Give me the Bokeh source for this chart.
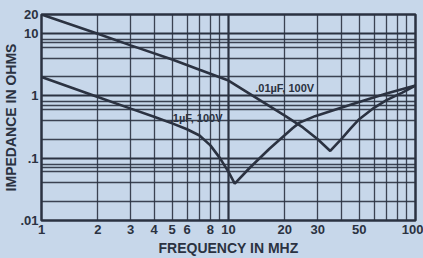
from bokeh.plotting import figure
from bokeh.models import FixedTicker, Grid, Label, GlobalInlineStyleSheet
from bokeh.embed import file_html
from bokeh.resources import INLINE

# ---- data ----
freq_ticks = [1, 2, 3, 4, 5, 6, 8, 10, 20, 30, 50, 100]
imp_ticks = [0.01, 0.1, 1, 10, 20]
imp_tick_labels = [".01", ".1", "1", "10", "20"]

grid_x_minor = [2, 3, 4, 5, 6, 7, 8, 9, 20, 30, 40, 50, 60, 70, 80, 90]
grid_x_major = [10]
grid_y_minor = [0.02, 0.04, 0.06, 0.07, 0.08,
                0.2, 0.4, 0.6, 0.7, 0.8,
                2, 4, 6, 7, 8]
grid_y_major = [0.1, 1, 10]

f_01uF = [1, 2, 3, 5, 7, 10, 15, 20, 25, 30, 35, 40, 45, 50, 60, 70, 85, 100]
z_01uF = [20, 9.8, 6.4, 3.8, 2.6, 1.75, 0.82, 0.48, 0.31, 0.2, 0.13, 0.2, 0.3, 0.42, 0.64, 0.85, 1.12, 1.45]

f_1uF = [1, 2, 3, 4, 5, 6, 7, 8, 9, 10, 10.8, 13, 16.5, 22, 24, 29, 40, 50, 70, 100]
z_1uF = [2.0, 0.95, 0.62, 0.46, 0.36, 0.29, 0.23, 0.16, 0.1, 0.06, 0.039, 0.07, 0.14, 0.3, 0.37, 0.47, 0.64, 0.79, 1.08, 1.45]

label_01uF = ".01\u00b5F, 100V"
label_1uF = ".1\u00b5F, 100V"

BG = "#c7d7ea"
INK = "#2b3241"
FONT = "Liberation Sans"

p = figure(width=423, height=258, x_axis_type="log", y_axis_type="log",
           x_range=(1, 100), y_range=(0.01, 20),
           output_backend="svg", toolbar_location=None,
           min_border_left=41, min_border_right=8, min_border_top=14, min_border_bottom=38)

p.background_fill_color = BG
p.border_fill_color = BG
p.outline_line_color = INK
p.outline_line_width = 2.5
p.stylesheets = [GlobalInlineStyleSheet(
    css="html, body { margin: 0; padding: 0; background: %s; overflow: hidden; }" % BG)]

# grids
p.xgrid.ticker = FixedTicker(ticks=grid_x_minor)
p.ygrid.ticker = FixedTicker(ticks=grid_y_minor)
for g in (p.xgrid[0], p.ygrid[0]):
    g.grid_line_color = INK
    g.grid_line_width = 1.3
    g.grid_line_alpha = 0.9
p.add_layout(Grid(dimension=0, ticker=FixedTicker(ticks=grid_x_major),
                  grid_line_color=INK, grid_line_width=2.2))
p.add_layout(Grid(dimension=1, ticker=FixedTicker(ticks=grid_y_major),
                  grid_line_color=INK, grid_line_width=2.2))

# axes
p.xaxis.ticker = FixedTicker(ticks=freq_ticks)
p.yaxis.ticker = FixedTicker(ticks=imp_ticks)
p.yaxis.major_label_overrides = {t: s for t, s in zip(imp_ticks, imp_tick_labels)}
p.xaxis.major_label_overrides = {t: str(t) for t in freq_ticks}
for ax in (p.xaxis[0], p.yaxis[0]):
    ax.axis_line_color = None
    ax.major_tick_line_color = None
    ax.minor_tick_line_color = None
    ax.major_tick_out = 0
    ax.major_tick_in = 0
    ax.minor_tick_out = 0
    ax.minor_tick_in = 0
    ax.major_label_text_font = FONT
    ax.major_label_text_font_style = "bold"
    ax.major_label_text_color = INK
    ax.axis_label_text_font = FONT
    ax.axis_label_text_font_style = "bold"
    ax.axis_label_text_color = INK
p.xaxis.major_label_text_font_size = "13px"
p.yaxis.major_label_text_font_size = "13px"
p.xaxis.major_label_standoff = 4
p.yaxis.major_label_standoff = 3
p.xaxis.axis_label = "FREQUENCY IN MHZ"
p.yaxis.axis_label = "IMPEDANCE IN OHMS"
p.xaxis.axis_label_text_font_size = "14px"
p.yaxis.axis_label_text_font_size = "14px"
p.xaxis.axis_label_standoff = 3
p.yaxis.axis_label_standoff = -2

# curves
p.line(f_01uF, z_01uF, line_color=INK, line_width=2.6)
p.line(f_1uF, z_1uF, line_color=INK, line_width=2.6)

p.add_layout(Label(x=13.9, y=1.34, text=label_01uF, text_font=FONT, text_font_style="bold",
                   text_font_size="11px", text_color=INK, text_baseline="middle"))
p.add_layout(Label(x=4.85, y=0.444, text=label_1uF, text_font=FONT, text_font_style="bold",
                   text_font_size="11px", text_color=INK, text_baseline="middle"))

open("out.html", "w").write(file_html(p, INLINE))
